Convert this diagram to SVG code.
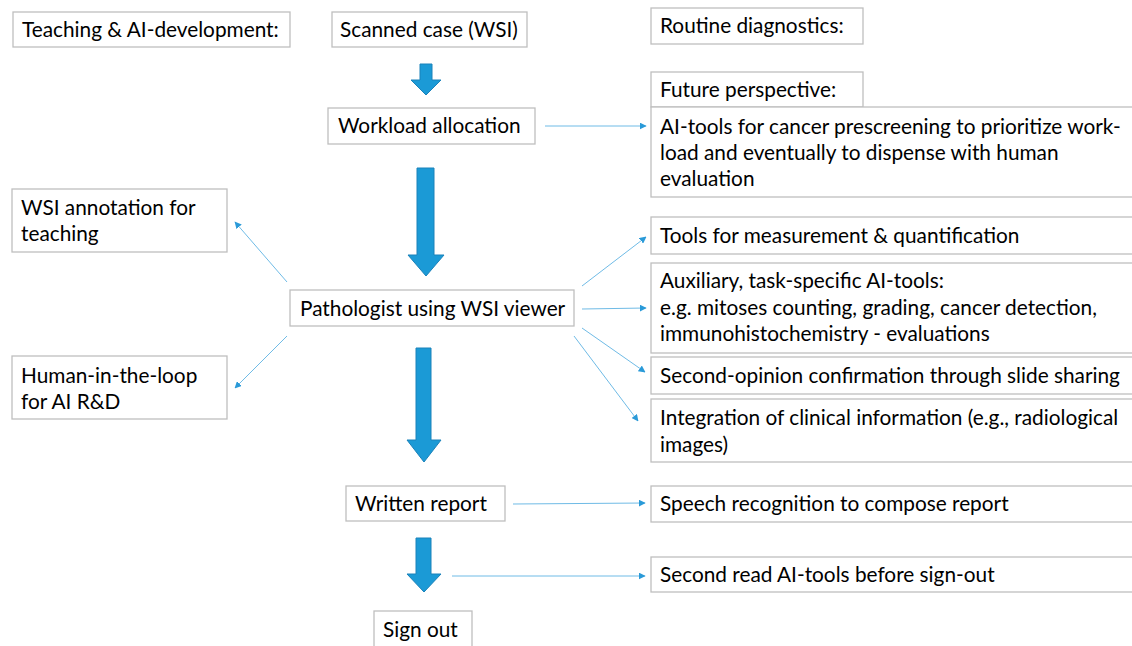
<svg xmlns="http://www.w3.org/2000/svg" width="1132" height="646" viewBox="0 0 1132 646">
<defs>
<style>
.box{fill:#fff;stroke:#bfbfbf;stroke-width:1.3}
text{font-family:Lato,"Open Sans",sans-serif;font-size:20.8px;fill:#000}
.thin{stroke:#6fbbe6;stroke-width:1;fill:none;marker-end:url(#ah)}
.big{fill:#1b9ad6;stroke:#1a82ba;stroke-width:1}
</style>
<marker id="ah" viewBox="0 0 10 10" refX="9" refY="5" markerWidth="7" markerHeight="7" orient="auto" markerUnits="userSpaceOnUse"><path d="M0,0 L10,5 L0,10 z" fill="#2a9ad8"/></marker>
</defs>
<rect width="1132" height="646" fill="#fff"/>
<g id="teaching"><rect class="box" x="13" y="12" width="277" height="35"/><text x="22" y="37">Teaching &amp; AI-development:</text></g>
<g id="scanned"><rect class="box" x="332" y="12" width="195" height="35"/><text x="340" y="37">Scanned case (WSI)</text></g>
<g id="routine"><rect class="box" x="651" y="8" width="212" height="36"/><text x="660" y="33">Routine diagnostics:</text></g>
<g id="workload"><rect class="box" x="328" y="108" width="207" height="36"/><text x="338" y="133">Workload allocation</text></g>
<g id="future"><rect class="box" x="651" y="72" width="212" height="35"/><text x="660" y="97">Future perspective:</text></g>
<g id="prescreen"><rect class="box" x="651" y="107" width="490" height="90"/><text x="660" y="134">AI-tools for cancer prescreening to prioritize work-</text><text x="660" y="160">load and eventually to dispense with human</text><text x="660" y="186">evaluation</text></g>
<g id="annotation"><rect class="box" x="12" y="189" width="215" height="63"/><text x="21" y="215">WSI annotation for</text><text x="21" y="241">teaching</text></g>
<g id="pathologist"><rect class="box" x="290" y="290" width="284" height="36"/><text x="300" y="316">Pathologist using WSI viewer</text></g>
<g id="human"><rect class="box" x="12" y="356" width="215" height="63"/><text x="21" y="383">Human-in-the-loop</text><text x="21" y="409">for AI R&amp;D</text></g>
<g id="tools"><rect class="box" x="651" y="217" width="490" height="37"/><text x="660" y="243">Tools for measurement &amp; quantification</text></g>
<g id="auxiliary"><rect class="box" x="651" y="263" width="490" height="90"/><text x="660" y="288">Auxiliary, task-specific AI-tools:</text><text x="660" y="315">e.g. mitoses counting, grading, cancer detection,</text><text x="660" y="341">immunohistochemistry - evaluations</text></g>
<g id="secondopinion"><rect class="box" x="651" y="357" width="490" height="37"/><text x="660" y="383">Second-opinion confirmation through slide sharing</text></g>
<g id="integration"><rect class="box" x="651" y="399" width="490" height="63"/><text x="660" y="425">Integration of clinical information (e.g., radiological</text><text x="660" y="452">images)</text></g>
<g id="written"><rect class="box" x="346" y="486" width="159" height="35"/><text x="355" y="511">Written report</text></g>
<g id="speech"><rect class="box" x="651" y="486" width="490" height="36"/><text x="660" y="511">Speech recognition to compose report</text></g>
<g id="secondread"><rect class="box" x="651" y="557" width="490" height="35"/><text x="660" y="582">Second read AI-tools before sign-out</text></g>
<g id="signout"><rect class="box" x="374" y="611" width="98" height="45"/><text x="383" y="637">Sign out</text></g>
<g id="connectors">
<path class="big" d="M420,64 H432 V80 H441 L426,95 L411,80 H420 Z"/>
<path class="big" d="M417,168 H434 V255 H444 L426,276 L408,255 H417 Z"/>
<path class="big" d="M416,348 H431 V440 H441 L424,462 L407,440 H416 Z"/>
<path class="big" d="M416,538 H431 V574 H441 L424,592 L407,574 H416 Z"/>
<line class="thin" x1="545" y1="126" x2="646" y2="126"/>
<line class="thin" x1="287" y1="282" x2="235" y2="222"/>
<line class="thin" x1="287" y1="336" x2="235" y2="388"/>
<line class="thin" x1="582" y1="286" x2="646" y2="237"/>
<line class="thin" x1="582" y1="309" x2="646" y2="308"/>
<line class="thin" x1="582" y1="328" x2="645" y2="372"/>
<line class="thin" x1="574" y1="336" x2="638" y2="421"/>
<line class="thin" x1="513" y1="504" x2="645" y2="503"/>
<line class="thin" x1="452" y1="576" x2="645" y2="576"/>
</g>
</svg>
